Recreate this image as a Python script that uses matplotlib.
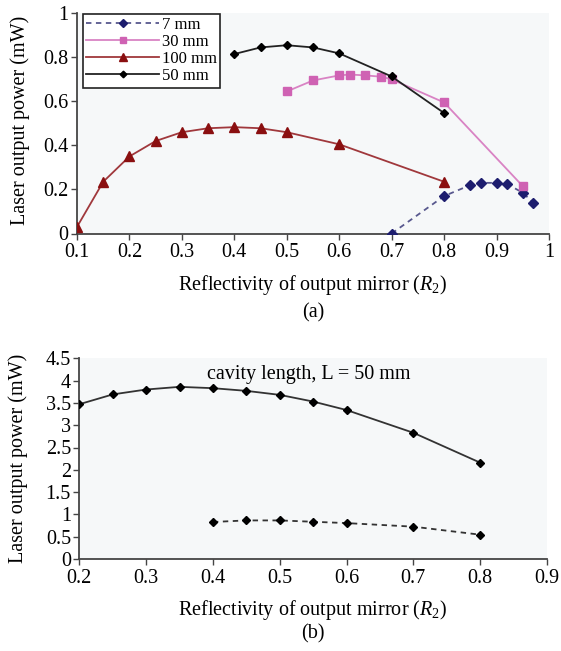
import matplotlib
matplotlib.use("Agg")
import matplotlib.pyplot as plt

plt.rcParams['font.family'] = ['Liberation Serif', 'DejaVu Serif']
plt.rcParams['mathtext.fontset'] = 'custom'
plt.rcParams['mathtext.rm'] = 'Liberation Serif'
plt.rcParams['mathtext.it'] = 'Liberation Serif:italic'

# (a) output power vs. mirror reflectivity for several cavity lengths
r_7mm = [0.70, 0.80, 0.85, 0.87, 0.90, 0.92, 0.95, 0.97]
p_7mm = [0.00, 0.17, 0.22, 0.23, 0.23, 0.225, 0.185, 0.14]

r_30mm = [0.50, 0.55, 0.60, 0.62, 0.65, 0.68, 0.70, 0.80, 0.95]
p_30mm = [0.645, 0.695, 0.718, 0.722, 0.718, 0.712, 0.700, 0.595, 0.215]

r_100mm = [0.10, 0.15, 0.20, 0.25, 0.30, 0.35, 0.40, 0.45, 0.50, 0.60, 0.80]
p_100mm = [0.03, 0.235, 0.35, 0.42, 0.46, 0.478, 0.483, 0.478, 0.46, 0.405, 0.235]

r_50mm = [0.40, 0.45, 0.50, 0.55, 0.60, 0.70, 0.80]
p_50mm = [0.815, 0.845, 0.855, 0.845, 0.818, 0.713, 0.547]

# (b) L = 50 mm, two pumping conditions
r_b = [0.20, 0.25, 0.30, 0.35, 0.40, 0.45, 0.50, 0.55, 0.60, 0.70, 0.80]
p_b_high = [3.47, 3.69, 3.80, 3.86, 3.83, 3.77, 3.68, 3.53, 3.34, 2.83, 2.16]
r_b_low = [0.40, 0.45, 0.50, 0.55, 0.60, 0.70, 0.80]
p_b_low = [0.83, 0.865, 0.865, 0.835, 0.805, 0.725, 0.545]

xticks_a = [0.1, 0.2, 0.3, 0.4, 0.5, 0.6, 0.7, 0.8, 0.9, 1.0]
xticklabels_a = ['0.1', '0.2', '0.3', '0.4', '0.5', '0.6', '0.7', '0.8', '0.9', '1']
yticks_a = [0, 0.2, 0.4, 0.6, 0.8, 1.0]
yticklabels_a = ['0', '0.2', '0.4', '0.6', '0.8', '1']
xticks_b = [0.2, 0.3, 0.4, 0.5, 0.6, 0.7, 0.8, 0.9]
yticks_b = [0, 0.5, 1, 1.5, 2, 2.5, 3, 3.5, 4, 4.5]
yticklabels_b = ['0', '0.5', '1', '1.5', '2', '2.5', '3', '3.5', '4', '4.5']

W, H = 561, 651
fig = plt.figure(figsize=(W / 100, H / 100), dpi=100)
fig.patch.set_facecolor('white')

FS = 14.5
AX_BG = '#f6f8f9'
SPINE = '#454545'


def style_axes(ax):
    ax.set_facecolor(AX_BG)
    for s in ('top', 'right'):
        ax.spines[s].set_visible(False)
    for s in ('left', 'bottom'):
        ax.spines[s].set_color(SPINE)
        ax.spines[s].set_linewidth(1.3)
    ax.tick_params(axis='both', direction='out', length=4, width=1.0,
                   color=SPINE, labelsize=FS)
    ax.tick_params(axis='y', pad=2)
    ax.tick_params(axis='x', pad=3)


def fx(px):
    return px / W


def fy(py):
    return 1 - py / H


# ---------- panel (a) ----------
ax1 = fig.add_axes([fx(77), fy(233.5), fx(549) - fx(77), fy(13.3) - fy(233.5)])
style_axes(ax1)
ax1.plot(r_7mm, p_7mm, linestyle=(0, (3, 2.5)), color='#58588e', lw=1.3,
         marker='D', markersize=5.5, markerfacecolor='#1d1d6e',
         markeredgecolor='#1d1d6e', label='7 mm', zorder=3)
ax1.plot(r_30mm, p_30mm, '-', color='#d983c4', lw=1.3,
         marker='s', markersize=5.5, markerfacecolor='#cf62b3',
         markeredgecolor='#cf62b3', label='30 mm', zorder=3)
ax1.plot(r_100mm, p_100mm, '-', color='#a0383c', lw=1.3,
         marker='^', markersize=7, markerfacecolor='#8a0f10',
         markeredgecolor='#8a0f10', label='100 mm', zorder=3)
ax1.plot(r_50mm, p_50mm, '-', color='#222222', lw=1.3,
         marker='D', markersize=4.5, markerfacecolor='black',
         markeredgecolor='black', label='50 mm', zorder=4)
ax1.set_xlim(0.1, 1.0)
ax1.set_ylim(0, 1.0)
ax1.set_xticks(xticks_a)
ax1.set_xticklabels(xticklabels_a)
ax1.set_yticks(yticks_a)
ax1.set_yticklabels(yticklabels_a)
for lab in ax1.get_xticklabels() + ax1.get_yticklabels():
    lab.set_clip_on(False)

leg = ax1.legend(loc='upper left', bbox_to_anchor=(0.012, 0.997),
                 borderaxespad=0, fontsize=12, handlelength=4.4,
                 handletextpad=0.15, labelspacing=0.06, borderpad=0.2,
                 markerscale=0.75,
                 fancybox=False, framealpha=1, edgecolor='#222222',
                 facecolor='white')
leg.get_frame().set_linewidth(1.2)

fig.text(fx(313), fy(285), r'Reflectivity of output mirror ($R_2$)',
         ha='center', va='center', fontsize=FS)
fig.text(fx(313), fy(313), '(a)', ha='center', va='center', fontsize=FS)
fig.text(fx(20), fy(120), 'Laser output power (mW)', rotation=90,
         ha='center', va='center', fontsize=FS)

# ---------- panel (b) ----------
ax2 = fig.add_axes([fx(79.3), fy(559), fx(547) - fx(79.3), fy(358.3) - fy(559)])
style_axes(ax2)
ax2.plot(r_b, p_b_high, '-', color='#333333', lw=1.3,
         marker='D', markersize=4.0, markerfacecolor='black',
         markeredgecolor='black', zorder=3)
ax2.plot(r_b_low, p_b_low, linestyle=(0, (3, 2.5)), color='#333333', lw=1.3,
         marker='D', markersize=4.0, markerfacecolor='black',
         markeredgecolor='black', zorder=3)
ax2.set_xlim(0.2, 0.9)
ax2.set_ylim(0, 4.5)
ax2.set_xticks(xticks_b)
ax2.set_xticklabels([f'{v:.1f}' for v in xticks_b])
ax2.set_yticks(yticks_b)
ax2.set_yticklabels(yticklabels_b)
for lab in ax2.get_xticklabels() + ax2.get_yticklabels():
    lab.set_clip_on(False)

ax2.text(0.49, 0.92, 'cavity length, L = 50 mm', transform=ax2.transAxes,
         ha='center', va='center', fontsize=FS)

fig.text(fx(313), fy(610), r'Reflectivity of output mirror ($R_2$)',
         ha='center', va='center', fontsize=FS)
fig.text(fx(313), fy(634), '(b)', ha='center', va='center', fontsize=FS)
fig.text(fx(18), fy(458), 'Laser output power (mW)', rotation=90,
         ha='center', va='center', fontsize=FS)

fig.savefig('out.png', dpi=100, facecolor='white')
